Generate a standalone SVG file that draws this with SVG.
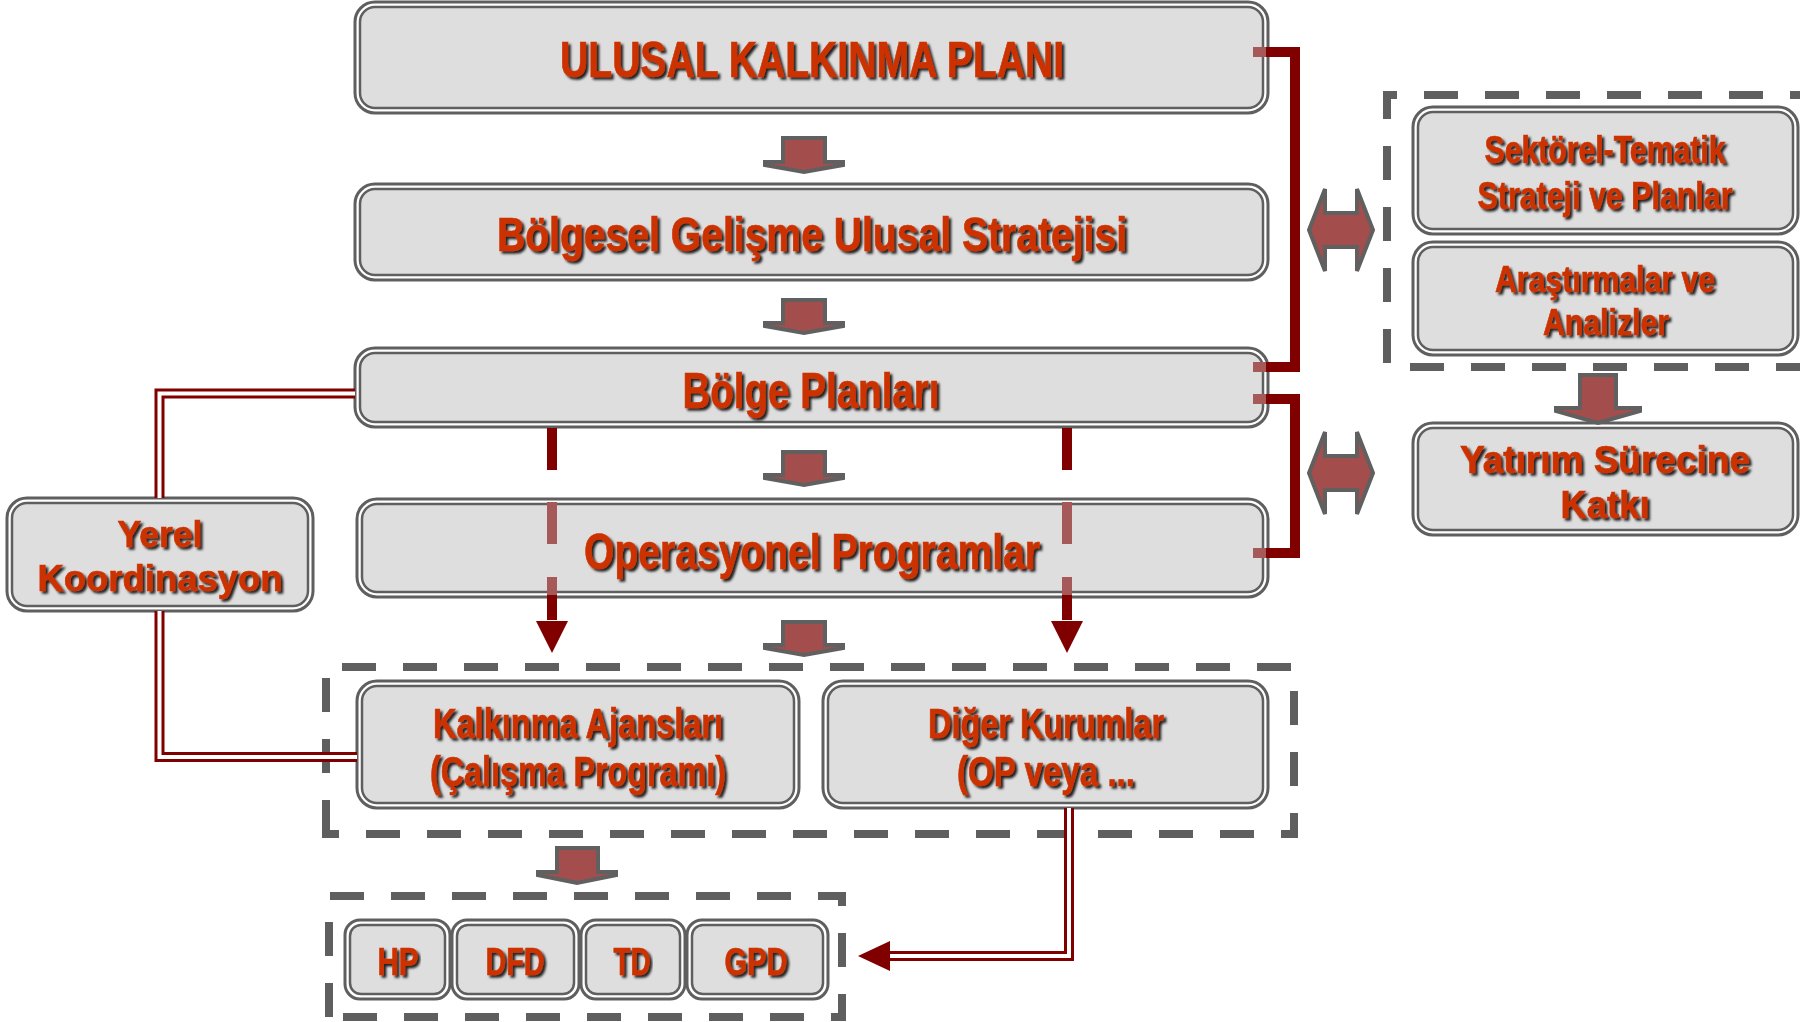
<svg xmlns="http://www.w3.org/2000/svg" width="1800" height="1022" viewBox="0 0 1800 1022">
<defs>
<filter id="sh" x="-5%" y="-20%" width="110%" height="150%">
<feDropShadow dx="2.5" dy="2.5" stdDeviation="1.3" flood-color="#000" flood-opacity="0.85"/>
</filter>
<style>
.t{font-family:"Liberation Sans",Arial,sans-serif;font-weight:700;fill:#cc3300;stroke:#cc3300;stroke-width:0.7;text-anchor:middle;filter:url(#sh)}
.o{fill:#fff;stroke:#5f5f5f;stroke-width:3}
.i{fill:#dedede;stroke:#5f5f5f;stroke-width:2.5}
.bl{fill:#a44d4d;stroke:#606060;stroke-width:4;stroke-linejoin:miter}
.dash{fill:none;stroke:#5f5f5f;stroke-width:8;stroke-dasharray:34 27}
.rl{fill:none;stroke:#800000;stroke-width:10;stroke-linejoin:miter}
.dl{fill:none;stroke:#800000;stroke-width:10}
.dw{fill:none;stroke:#fff;stroke-width:4}
.rs{fill:#800000}
.fd{fill:#a65959}
</style>
</defs>
<rect width="1800" height="1022" fill="#fff"/>

<g id="groups">
<path class="dash" d="M326,834 V667 H1294 V834 Z"/>
<path class="dash" d="M329,1017 V896 H842 V1017 Z"/>
<path class="dash" d="M1810,367 H1387 V95 H1810"/>
</g>

<g id="n-ulusal">
<rect class="o" x="355" y="2" width="913" height="111" rx="20"/>
<rect class="i" x="360" y="7" width="903" height="101" rx="15"/>
<text class="t" x="812" y="77" font-size="50" textLength="504" lengthAdjust="spacingAndGlyphs">ULUSAL KALKINMA PLANI</text>
</g>
<g id="n-bgus">
<rect class="o" x="355" y="184" width="913" height="96" rx="20"/>
<rect class="i" x="360" y="189" width="903" height="86" rx="15"/>
<text class="t" x="812" y="251" font-size="48" textLength="630" lengthAdjust="spacingAndGlyphs">Bölgesel Gelişme Ulusal Stratejisi</text>
</g>
<g id="n-bolge">
<rect class="o" x="355" y="348" width="913" height="79" rx="20"/>
<rect class="i" x="360" y="353" width="903" height="69" rx="15"/>
<text class="t" x="811" y="408" font-size="50" textLength="257" lengthAdjust="spacingAndGlyphs">Bölge Planları</text>
</g>
<g id="n-op">
<rect class="o" x="357" y="499" width="911" height="98" rx="20"/>
<rect class="i" x="362" y="504" width="901" height="88" rx="15"/>
<text class="t" x="812" y="569" font-size="50" textLength="456" lengthAdjust="spacingAndGlyphs">Operasyonel Programlar</text>
</g>
<g id="n-ka">
<rect class="o" x="357" y="681" width="442" height="127" rx="20"/>
<rect class="i" x="362" y="686" width="432" height="117" rx="15"/>
<text class="t" x="578" y="738" font-size="42" textLength="290" lengthAdjust="spacingAndGlyphs">Kalkınma Ajansları</text>
<text class="t" x="578" y="786" font-size="42" textLength="296" lengthAdjust="spacingAndGlyphs">(Çalışma Programı)</text>
</g>
<g id="n-diger">
<rect class="o" x="823" y="681" width="445" height="127" rx="20"/>
<rect class="i" x="828" y="686" width="435" height="117" rx="15"/>
<text class="t" x="1046" y="738" font-size="42" textLength="236" lengthAdjust="spacingAndGlyphs">Diğer Kurumlar</text>
<text class="t" x="1046" y="786" font-size="42" textLength="178" lengthAdjust="spacingAndGlyphs">(OP veya ...</text>
</g>
<g id="n-sekt">
<rect class="o" x="1413" y="107" width="385" height="127" rx="20"/>
<rect class="i" x="1418" y="112" width="375" height="117" rx="15"/>
<text class="t" x="1605" y="163" font-size="38" textLength="241" lengthAdjust="spacingAndGlyphs">Sektörel-Tematik</text>
<text class="t" x="1605" y="209" font-size="38" textLength="255" lengthAdjust="spacingAndGlyphs">Strateji ve Planlar</text>
</g>
<g id="n-aras">
<rect class="o" x="1413" y="242" width="385" height="113" rx="20"/>
<rect class="i" x="1418" y="247" width="375" height="103" rx="15"/>
<text class="t" x="1605" y="292" font-size="37" textLength="220" lengthAdjust="spacingAndGlyphs">Araştırmalar ve</text>
<text class="t" x="1606" y="335" font-size="37" textLength="126" lengthAdjust="spacingAndGlyphs">Analizler</text>
</g>
<g id="n-yat">
<rect class="o" x="1413" y="423" width="385" height="112" rx="20"/>
<rect class="i" x="1418" y="428" width="375" height="102" rx="15"/>
<text class="t" x="1605" y="473" font-size="38" textLength="290" lengthAdjust="spacingAndGlyphs">Yatırım Sürecine</text>
<text class="t" x="1605" y="518" font-size="38" textLength="89" lengthAdjust="spacingAndGlyphs">Katkı</text>
</g>
<g id="n-yerel">
<rect class="o" x="7" y="498" width="306" height="113" rx="20"/>
<rect class="i" x="12" y="503" width="296" height="103" rx="15"/>
<text class="t" x="160" y="547" font-size="37" textLength="85" lengthAdjust="spacingAndGlyphs">Yerel</text>
<text class="t" x="160" y="591" font-size="37" textLength="245" lengthAdjust="spacingAndGlyphs">Koordinasyon</text>
</g>
<g id="n-hp">
<rect class="o" x="345" y="920" width="105" height="79" rx="15"/>
<rect class="i" x="350" y="925" width="95" height="69" rx="11"/>
<text class="t" x="398" y="975" font-size="39" textLength="41" lengthAdjust="spacingAndGlyphs">HP</text>
</g>
<g id="n-dfd">
<rect class="o" x="452" y="920" width="127" height="79" rx="15"/>
<rect class="i" x="457" y="925" width="117" height="69" rx="11"/>
<text class="t" x="515" y="975" font-size="39" textLength="59" lengthAdjust="spacingAndGlyphs">DFD</text>
</g>
<g id="n-td">
<rect class="o" x="581" y="920" width="104" height="79" rx="15"/>
<rect class="i" x="586" y="925" width="94" height="69" rx="11"/>
<text class="t" x="632" y="975" font-size="39" textLength="37" lengthAdjust="spacingAndGlyphs">TD</text>
</g>
<g id="n-gpd">
<rect class="o" x="687" y="920" width="141" height="79" rx="15"/>
<rect class="i" x="692" y="925" width="131" height="69" rx="11"/>
<text class="t" x="756" y="975" font-size="39" textLength="63" lengthAdjust="spacingAndGlyphs">GPD</text>
</g>

<g id="connectors">
<polygon class="bl" points="783,138 825,138 825,162 843,162 843,165 804,172 765,165 765,162 783,162"/>
<polygon class="bl" points="783,300 825,300 825,323 843,323 843,326 804,333 765,326 765,323 783,323"/>
<polygon class="bl" points="783,452 825,452 825,475 843,475 843,478 804,485 765,478 765,475 783,475"/>
<polygon class="bl" points="783,622 825,622 825,645 843,645 843,648 804,655 765,648 765,645 783,645"/>
<polygon class="bl" points="557,848 598,848 598,872 616,872 616,875 577,883 538,875 538,872 557,872"/>
<polygon class="bl" points="1580,375 1616,375 1616,408 1640,408 1640,411 1598,423 1556,411 1556,408 1580,408"/>
<polygon class="bl" points="1309,230 1325,189 1325,213 1357,213 1357,189 1373,230 1357,271 1357,247 1325,247 1325,271"/>
<polygon class="bl" points="1309,473 1325,432 1325,456 1357,456 1357,432 1373,473 1357,514 1357,490 1325,490 1325,514"/>

<path class="rl" d="M1265,52 H1295 V367 H1265"/>
<path class="rl" d="M1265,399 H1295 V553 H1265"/>
<rect class="fd" x="1253" y="47" width="13" height="10"/>
<rect class="fd" x="1253" y="362" width="13" height="10"/>
<rect class="fd" x="1253" y="394" width="13" height="10"/>
<rect class="fd" x="1253" y="548" width="13" height="10"/>

<rect class="rs" x="547" y="428" width="10" height="42"/>
<rect class="fd" x="547" y="502" width="10" height="42"/>
<rect class="fd" x="547" y="577" width="10" height="18"/>
<rect class="rs" x="547" y="595" width="10" height="25"/>
<polygon class="rs" points="536,621 568,621 552,653"/>
<rect class="rs" x="1062" y="428" width="10" height="42"/>
<rect class="fd" x="1062" y="502" width="10" height="42"/>
<rect class="fd" x="1062" y="577" width="10" height="18"/>
<rect class="rs" x="1062" y="595" width="10" height="25"/>
<polygon class="rs" points="1051,621 1083,621 1067,653"/>

<path class="dl" d="M355,393.5 H159.5 V498"/>
<path class="dw" d="M355,393.5 H159.5 V498"/>
<path class="dl" d="M159.5,611 V757 H357"/>
<path class="dw" d="M159.5,611 V757 H357"/>
<path class="dl" d="M1069,808 V956 H890"/>
<path class="dw" d="M1069,808 V956 H888"/>
<polygon class="rs" points="858,956 890,941 890,971"/>
</g>
</svg>
